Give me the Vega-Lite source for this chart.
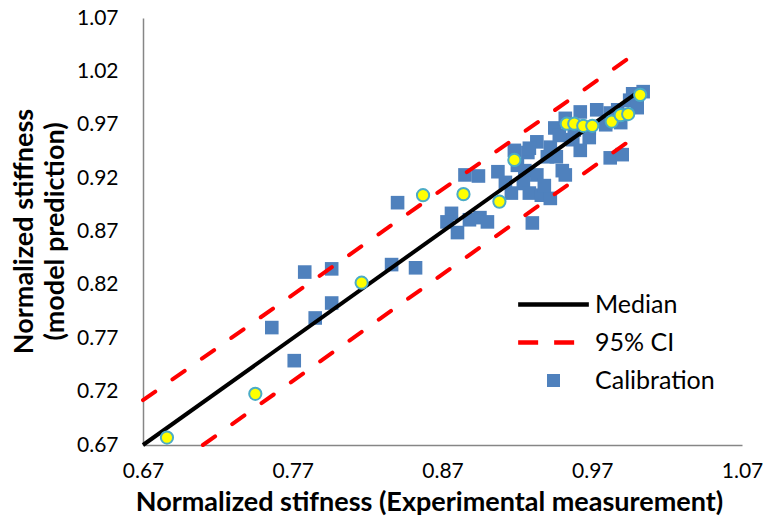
{
  "$schema": "https://vega.github.io/schema/vega-lite/v6.json",
  "width": 599,
  "height": 427,
  "autosize": "none",
  "padding": {"left": 143, "top": 18, "right": 29, "bottom": 76},
  "background": "white",
  "config": {
    "view": {"stroke": null},
    "font": "Lato",
    "axis": {"grid": false, "ticks": false, "domainColor": "#868686", "domainWidth": 1.5, "labelColor": "#000000", "labelFont": "Lato", "labelFontSize": 21, "titleFont": "Lato", "titleFontSize": 27, "titleFontWeight": "bold", "titleColor": "#000000"}
  },
  "datasets": {
    "calib": [
      {"x": 0.756, "y": 0.780}, {"x": 0.771, "y": 0.749}, {"x": 0.778, "y": 0.832}, {"x": 0.796, "y": 0.835},
      {"x": 0.796, "y": 0.803}, {"x": 0.785, "y": 0.789}, {"x": 0.836, "y": 0.839}, {"x": 0.852, "y": 0.836},
      {"x": 0.840, "y": 0.897}, {"x": 0.876, "y": 0.887}, {"x": 0.873, "y": 0.879}, {"x": 0.880, "y": 0.869},
      {"x": 0.888, "y": 0.881}, {"x": 0.895, "y": 0.883}, {"x": 0.900, "y": 0.879}, {"x": 0.885, "y": 0.923},
      {"x": 0.894, "y": 0.922}, {"x": 0.930, "y": 0.878}, {"x": 0.907, "y": 0.926}, {"x": 0.912, "y": 0.916},
      {"x": 0.916, "y": 0.906}, {"x": 0.918, "y": 0.946}, {"x": 0.927, "y": 0.944}, {"x": 0.920, "y": 0.932},
      {"x": 0.925, "y": 0.927}, {"x": 0.933, "y": 0.923}, {"x": 0.924, "y": 0.915}, {"x": 0.928, "y": 0.906},
      {"x": 0.936, "y": 0.904}, {"x": 0.942, "y": 0.901}, {"x": 0.938, "y": 0.913}, {"x": 0.940, "y": 0.940},
      {"x": 0.946, "y": 0.940}, {"x": 0.950, "y": 0.927}, {"x": 0.952, "y": 0.923}, {"x": 0.933, "y": 0.954},
      {"x": 0.942, "y": 0.949}, {"x": 0.945, "y": 0.967}, {"x": 0.928, "y": 0.948}, {"x": 0.957, "y": 0.956},
      {"x": 0.968, "y": 0.958}, {"x": 0.962, "y": 0.946}, {"x": 0.982, "y": 0.939}, {"x": 0.990, "y": 0.942},
      {"x": 0.997, "y": 0.999}, {"x": 1.004, "y": 1.001}, {"x": 0.995, "y": 0.993}, {"x": 1.000, "y": 0.986},
      {"x": 0.987, "y": 0.984}, {"x": 0.982, "y": 0.981}, {"x": 0.973, "y": 0.984}, {"x": 0.962, "y": 0.982},
      {"x": 0.952, "y": 0.976}, {"x": 0.958, "y": 0.965}, {"x": 0.968, "y": 0.967}, {"x": 0.979, "y": 0.970},
      {"x": 0.989, "y": 0.972}, {"x": 0.948, "y": 0.960}
    ],
    "valid": [
      {"x": 0.686, "y": 0.677}, {"x": 0.745, "y": 0.718}, {"x": 0.816, "y": 0.822}, {"x": 0.857, "y": 0.904},
      {"x": 0.884, "y": 0.905}, {"x": 0.908, "y": 0.898}, {"x": 0.918, "y": 0.937}, {"x": 0.953, "y": 0.971},
      {"x": 0.958, "y": 0.971}, {"x": 0.964, "y": 0.969}, {"x": 0.970, "y": 0.969}, {"x": 0.983, "y": 0.973},
      {"x": 0.989, "y": 0.979}, {"x": 0.994, "y": 0.980}, {"x": 1.002, "y": 0.998}
    ],
    "median": [
      {"x": 0.67, "y": 0.67}, {"x": 1.0, "y": 1.0}
    ],
    "ci": [
      {"bound": "upper", "x": 0.67, "y": 0.712}, {"bound": "upper", "x": 0.997, "y": 1.035},
      {"bound": "lower", "x": 0.71, "y": 0.67}, {"bound": "lower", "x": 0.997, "y": 0.957}
    ]
  },
  "encoding": {
    "x": {"field": "x", "type": "quantitative",
      "scale": {"domain": [0.67, 1.07], "nice": false, "zero": false},
      "axis": {"values": [0.67, 0.77, 0.87, 0.97, 1.07], "format": ".2f", "labelPadding": 15, "labelFlush": false,
        "title": "Normalized stifness (Experimental measurement)", "titleX": 286, "titleY": 57, "titleBaseline": "middle", "titleAlign": "center"}},
    "y": {"field": "y", "type": "quantitative",
      "scale": {"domain": [0.67, 1.07], "nice": false, "zero": false},
      "axis": {"values": [0.67, 0.72, 0.77, 0.82, 0.87, 0.92, 0.97, 1.02, 1.07], "format": ".2f", "labelPadding": 25, "labelFlush": false,
        "title": ["Normalized stiffness", "(model prediction)"], "titleAngle": -90, "titleX": -132, "titleY": 213, "titleBaseline": "top", "titleAlign": "center", "titleLineHeight": 31}}
  },
  "layer": [
    {
      "data": {"name": "calib"},
      "transform": [{"calculate": "'Calibration'", "as": "series"}],
      "mark": {"type": "point", "shape": "square", "filled": true, "size": 185, "opacity": 1},
      "encoding": {
        "color": {"field": "series", "type": "nominal",
          "scale": {"domain": ["Median", "95% CI", "Calibration"], "range": ["#000000", "#FF0000", "#4F81BD"]},
          "legend": {
            "title": null, "orient": "none", "legendX": 398, "legendY": 274, "padding": 0, "offset": 0,
            "symbolSize": 200, "labelFont": "Lato", "labelFontSize": 25, "labelColor": "#000000", "labelOffset": 29, "rowPadding": 12,
            "symbolOpacity": 1,
            "symbolType": {"expr": "datum.value === 'Calibration' ? 'M-0.92,-0.92H0.92V0.92H-0.92Z' : 'M-5,0H5'"},
            "symbolStrokeWidth": {"expr": "datum.value === 'Calibration' ? 0 : 4.5"},
            "symbolStrokeColor": {"expr": "datum.value === 'Median' ? '#000000' : (datum.value === '95% CI' ? '#FF0000' : '#4F81BD')"},
            "symbolDash": {"expr": "datum.value === '95% CI' ? [20, 16] : [1, 0]"}
          }}
      }
    },
    {
      "data": {"name": "median"},
      "transform": [{"calculate": "'Median'", "as": "series"}],
      "mark": {"type": "line", "strokeWidth": 4},
      "encoding": {"color": {"field": "series", "type": "nominal", "legend": null}}
    },
    {
      "data": {"name": "ci"},
      "transform": [{"calculate": "'95% CI'", "as": "series"}],
      "mark": {"type": "line", "strokeWidth": 4, "strokeDash": [15, 21], "strokeCap": "round"},
      "encoding": {"color": {"field": "series", "type": "nominal", "legend": null}, "detail": {"field": "bound"}}
    },
    {
      "data": {"name": "valid"},
      "mark": {"type": "point", "shape": "circle", "filled": true, "size": 150, "fill": "#FFFF00", "stroke": "#4BACC6", "strokeWidth": 2, "opacity": 1}
    }
  ]
}
